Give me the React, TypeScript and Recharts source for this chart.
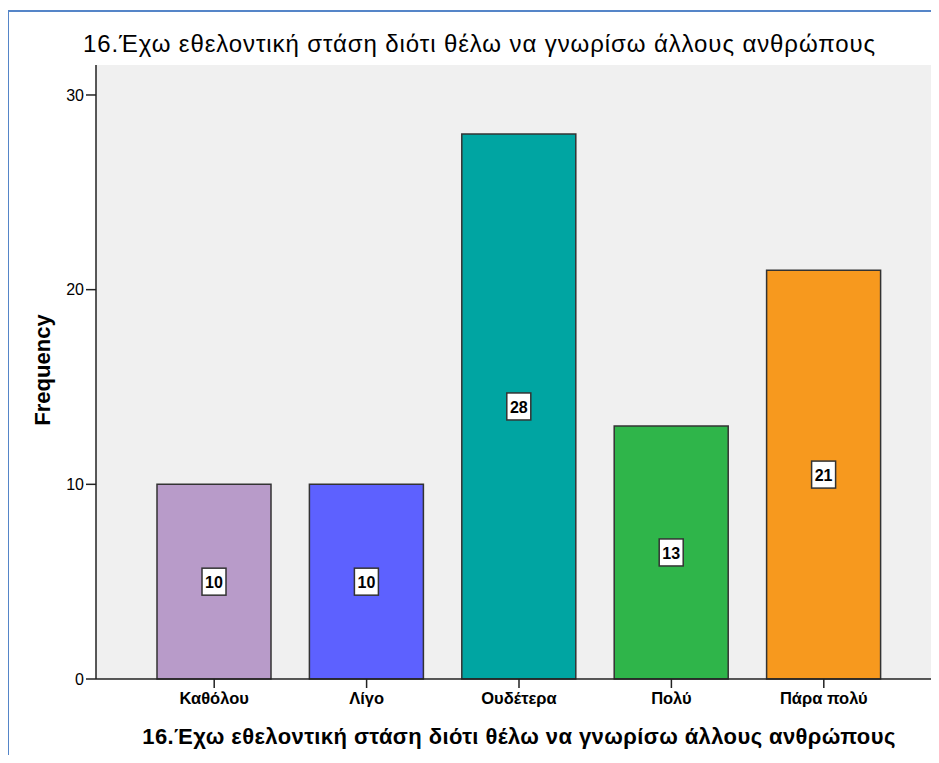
import React from 'react';
import { BarChart, Bar, XAxis, YAxis, CartesianGrid, Cell, LabelList, Label } from 'recharts';

const title = '16.Έχω εθελοντική στάση διότι θέλω να γνωρίσω άλλους ανθρώπους';
const categories = ['Καθόλου', 'Λίγο', 'Ουδέτερα', 'Πολύ', 'Πάρα πολύ'];
const frequencies = [10, 10, 28, 13, 21];
const barColors = ['#b89bc9', '#5d61ff', '#00a5a2', '#2fb54a', '#f7991e'];
const yTicks = [0, 10, 20, 30];

const data = categories.map((name, i) => ({ name, count: frequencies[i] }));

const FONT = '"Liberation Sans", Arial, sans-serif';

function ValueBox(props: any) {
  const { x, y, width, height, value } = props;
  const cx = x + width / 2;
  const cy = y + height / 2;
  return (
    <g>
      <rect x={cx - 12} y={cy - 13.5} width={24} height={27} fill="#fff" stroke="#333" strokeWidth={1.5} />
      <text x={cx} y={cy + 1} textAnchor="middle" dominantBaseline="central"
        fontFamily={FONT} fontWeight="bold" fontSize={16} fill="#000">
        {value}
      </text>
    </g>
  );
}

export default function App() {
  return (
    <div style={{ position: 'relative', margin: -8, width: 939, height: 763, overflow: 'hidden', background: '#fff', fontFamily: FONT }}>
      <div style={{ position: 'absolute', left: 7, top: 10, width: 1000, height: 1000,
        borderLeft: '2px solid #5585c8', borderTop: '2px solid #5585c8' }} />
      <div style={{ position: 'absolute', left: 83, top: 30, fontSize: 24, letterSpacing: 0.9, color: '#000', whiteSpace: 'nowrap' }}>
        {title}
      </div>
      <div style={{ position: 'absolute', left: 0, top: 0 }}>
        <BarChart width={942} height={763} data={data} margin={{ top: 65, right: 0, bottom: 0, left: 0 }}>
          <CartesianGrid horizontal={false} vertical={false} fill="#f0f0f0" />
          <XAxis xAxisId="top" orientation="top" dataKey="name" height={0} tick={false} tickLine={false}
            axisLine={{ stroke: '#666', strokeWidth: 2 }} padding={{ left: 42, right: 42 }} />
          <XAxis dataKey="name" height={84} padding={{ left: 42, right: 42 }}
            tickSize={9} tickMargin={4} interval={0}
            axisLine={{ stroke: '#222', strokeWidth: 1.5 }} tickLine={{ stroke: '#222', strokeWidth: 1.5 }}
            tick={{ fill: '#000', fontSize: 16.5, fontWeight: 'bold', fontFamily: FONT }}>
            <Label content={(p: any) => {
              const vb = p.viewBox;
              return (
                <text x={vb.x + vb.width / 2} y={744} textAnchor="middle" fontFamily={FONT}
                  fontWeight="bold" fontSize={22} letterSpacing={0.4} fill="#000">{title}</text>
              );
            }} />
          </XAxis>
          <YAxis width={96} domain={[0, 31.54]} ticks={yTicks} tickSize={10} tickMargin={2}
            axisLine={{ stroke: '#222', strokeWidth: 1.5 }} tickLine={{ stroke: '#222', strokeWidth: 1.5 }}
            tick={{ fill: '#000', fontSize: 16, fontFamily: FONT }}>
            <Label content={(p: any) => {
              const vb = p.viewBox;
              const cy = vb.y + vb.height / 2 - 2;
              return (
                <text x={42} y={cy} transform={`rotate(-90 42 ${cy})`} textAnchor="middle"
                  dominantBaseline="central" fontFamily={FONT} fontWeight="bold" fontSize={22} fill="#000">
                  Frequency
                </text>
              );
            }} />
          </YAxis>
          <Bar dataKey="count" barSize={114} stroke="#333" strokeWidth={1.5} isAnimationActive={false}>
            {data.map((d, i) => (
              <Cell key={d.name} fill={barColors[i]} />
            ))}
            <LabelList dataKey="count" content={ValueBox} />
          </Bar>
        </BarChart>
      </div>
    </div>
  );
}
